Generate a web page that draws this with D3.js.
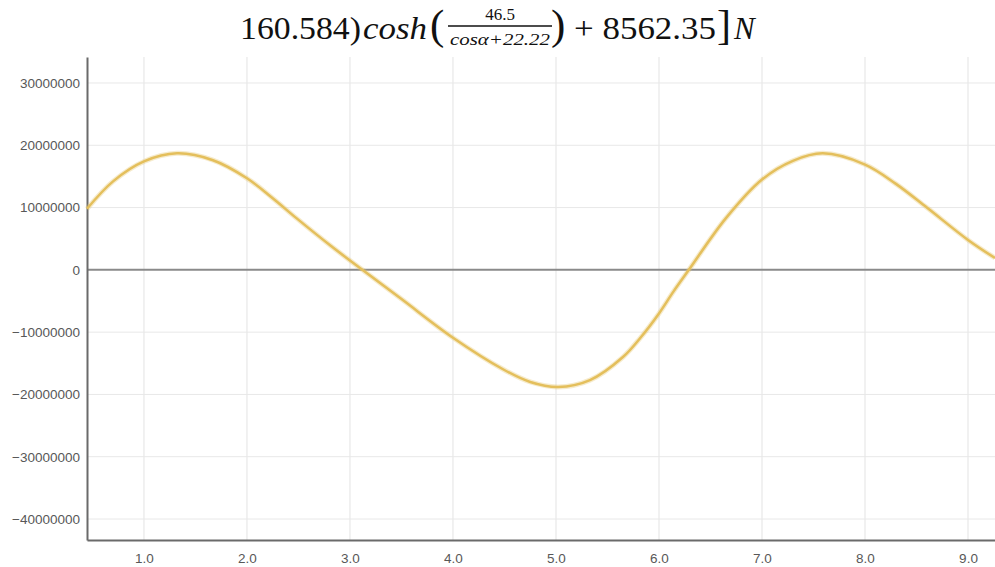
<!DOCTYPE html>
<html>
<head>
<meta charset="utf-8">
<script src="https://cdn.jsdelivr.net/npm/d3@7"></script>
<style>
  body { margin: 0; background: #fff; }
  svg { display: block; }
</style>
</head>
<body>
<div id="chart"></div>
<script>
// values (force in N, against alpha)
const alphaValues = [0.447, 0.7, 1.0, 1.32, 1.67, 2.0, 2.25, 2.48, 2.81, 3.12, 3.5, 4.0, 4.49, 4.75, 5.02, 5.33, 5.65, 5.82, 6.0, 6.14, 6.29, 6.65, 7.0, 7.3, 7.59, 8.0, 8.3, 8.6, 9.0, 9.262];
const forceValues = [9800000, 14200000, 17400000, 18700000, 17600000, 14700000, 11500000, 8300000, 3900000, 0, -4700000, -10900000, -16000000, -18000000, -18800000, -17700000, -14000000, -10900000, -7000000, -3500000, 0, 8300000, 14500000, 17500000, 18700000, 16900000, 13800000, 10000000, 4800000, 1900000];
const xTicks = [1, 2, 3, 4, 5, 6, 7, 8, 9];
const yTicks = [30000000, 20000000, 10000000, 0, -10000000, -20000000, -30000000, -40000000];

const width = 995;
const height = 567;
const margin = { top: 57, right: 0, bottom: 27, left: 87 };

const svg = d3.select('#chart').append('svg').attr('width', width).attr('height', height);

// title formula (fragment of a longer equation)
const title = svg.append('g').attr('font-family', 'Liberation Serif, serif').attr('fill', '#111');
title.append('text').attr('x', 240).attr('y', 39).attr('font-size', 31).attr('textLength', 121).attr('lengthAdjust', 'spacingAndGlyphs').text('160.584)');
title.append('text').attr('x', 363).attr('y', 39).attr('font-size', 31).attr('font-style', 'italic').attr('textLength', 64).attr('lengthAdjust', 'spacingAndGlyphs').text('cosh');
title.append('text').attr('x', 430).attr('y', 39).attr('font-size', 43).attr('font-weight', 300).text('(');
title.append('text').attr('x', 500).attr('y', 20).attr('font-size', 17).attr('text-anchor', 'middle').text('46.5');
title.append('line').attr('x1', 448).attr('x2', 552).attr('y1', 26).attr('y2', 26).attr('stroke', '#111').attr('stroke-width', 1.4);
title.append('text').attr('x', 450).attr('y', 45).attr('font-size', 17).attr('font-style', 'italic').attr('textLength', 100).attr('lengthAdjust', 'spacingAndGlyphs').text('cosα+22.22');
title.append('text').attr('x', 551).attr('y', 39).attr('font-size', 43).attr('font-weight', 300).text(')');
title.append('text').attr('x', 574).attr('y', 39).attr('font-size', 31).attr('textLength', 142).attr('lengthAdjust', 'spacingAndGlyphs').text('+ 8562.35');
title.append('text').attr('x', 717).attr('y', 39).attr('font-size', 42).text(']');
title.append('text').attr('x', 734).attr('y', 39).attr('font-size', 31).attr('font-style', 'italic').text('N');

const xScale = d3.scaleLinear().domain([0.447, 9.262]).range([margin.left, width - margin.right]);
const yScale = d3.scaleLinear().domain([-43370000, 34170000]).range([height - margin.bottom, margin.top]);

// grid
svg.append('g').selectAll('line').data(xTicks).enter().append('line')
  .attr('x1', d => xScale(d)).attr('x2', d => xScale(d))
  .attr('y1', margin.top).attr('y2', height - margin.bottom)
  .attr('stroke', '#e3e3e3').attr('stroke-width', 1);
svg.append('g').selectAll('line').data(yTicks.filter(d => d !== 0)).enter().append('line')
  .attr('x1', margin.left).attr('x2', width - margin.right)
  .attr('y1', d => yScale(d)).attr('y2', d => yScale(d))
  .attr('stroke', '#e8e8e8').attr('stroke-width', 1);

// zero line
svg.append('line')
  .attr('x1', margin.left).attr('x2', width - margin.right)
  .attr('y1', yScale(0)).attr('y2', yScale(0))
  .attr('stroke', '#8a8a8a').attr('stroke-width', 2);

const xAxis = d3.axisBottom(xScale).tickValues(xTicks).tickFormat(d3.format('.1f')).tickSize(0).tickPadding(13);
const yAxis = d3.axisLeft(yScale).tickValues(yTicks).tickFormat(d3.format('d')).tickSize(0).tickPadding(7);

const gx = svg.append('g').attr('transform', `translate(0,${height - margin.bottom})`).call(xAxis);
const gy = svg.append('g').attr('transform', `translate(${margin.left},0)`).call(yAxis);
[gx, gy].forEach(g => {
  g.select('.domain').attr('stroke', '#6a6a6a').attr('stroke-width', 2);
  g.selectAll('text').attr('font-family', 'Liberation Sans, Arial, sans-serif').attr('font-size', 13.5).attr('fill', '#585858');
});

// curve
const points = alphaValues.map((a, i) => [a, forceValues[i]]);
const line = d3.line().x(d => xScale(d[0])).y(d => yScale(d[1])).curve(d3.curveCatmullRom.alpha(0.5));

svg.append('path').datum(points).attr('d', line)
  .attr('fill', 'none').attr('stroke', '#e6c66c').attr('stroke-opacity', 0.35).attr('stroke-width', 5);
svg.append('path').datum(points).attr('d', line)
  .attr('fill', 'none').attr('stroke', '#e4bf5c').attr('stroke-width', 2.5);
</script>
</body>
</html>
